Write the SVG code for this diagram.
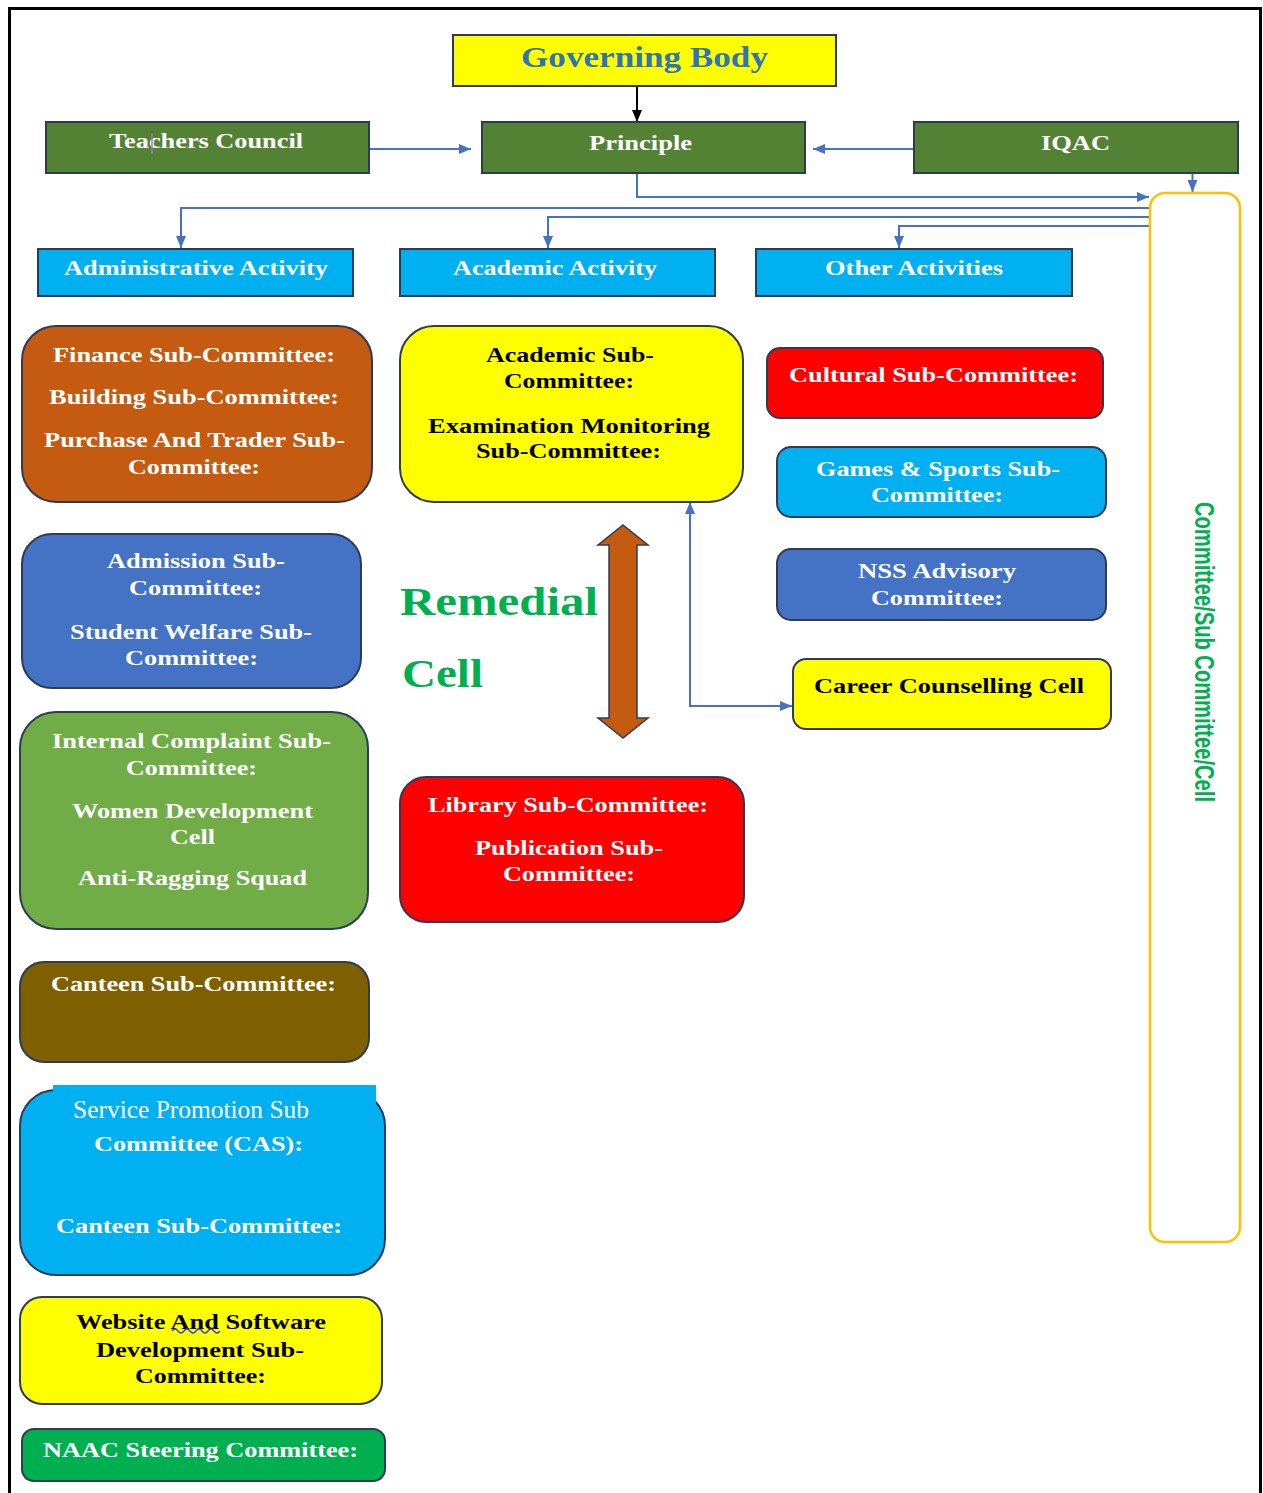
<svg xmlns="http://www.w3.org/2000/svg" width="1263" height="1493" viewBox="0 0 1263 1493">
<style>
.t{font-family:"Liberation Serif","Times New Roman",serif;font-weight:bold;font-size:22px;text-anchor:middle;fill:#fff}
.k{fill:#000}
.bx{stroke:#2F3B55;stroke-width:2}
.ln{fill:none;stroke:#4472C4;stroke-width:2}
</style>
<defs>
<marker id="ab" markerUnits="userSpaceOnUse" markerWidth="12" markerHeight="10" refX="12" refY="5" orient="auto"><path d="M0,0 L12,5 L0,10 z" fill="#4472C4"/></marker>
<marker id="abs" markerUnits="userSpaceOnUse" markerWidth="12" markerHeight="10" refX="0" refY="5" orient="auto"><path d="M12,0 L0,5 L12,10 z" fill="#4472C4"/></marker>
<marker id="ak" markerUnits="userSpaceOnUse" markerWidth="12" markerHeight="10" refX="12" refY="5" orient="auto"><path d="M0,0 L12,5 L0,10 z" fill="#000"/></marker>
</defs>
<rect width="1263" height="1493" fill="#fff"/>
<path d="M9.5,1493 V8.5 H1260.5 V1493" fill="none" stroke="#000" stroke-width="3"/>

<g id="connectors">
<path d="M637,86 V122" fill="none" stroke="#000" stroke-width="2" marker-end="url(#ak)"/>
<path class="ln" d="M369,149 H471" marker-end="url(#ab)"/>
<path class="ln" d="M914,149 H813" marker-end="url(#ab)"/>
<path class="ln" d="M637,173 V197 H1149" marker-end="url(#ab)"/>
<path class="ln" d="M1192.5,173 V192" marker-end="url(#ab)"/>
<path class="ln" d="M1150,208 H181 V248" marker-end="url(#ab)"/>
<path class="ln" d="M1150,217 H548 V248" marker-end="url(#ab)"/>
<path class="ln" d="M1150,226 H899 V248" marker-end="url(#ab)"/>
<path class="ln" d="M690,502 V706 H792" stroke-width="1.5" marker-start="url(#abs)" marker-end="url(#ab)"/>
</g>

<g id="governing-body">
<rect x="453" y="35" width="383" height="51" fill="#FFFF00" class="bx"/>
<text class="t" x="644.5" y="67" style="font-size:30px;fill:#2E75B6" textLength="247" lengthAdjust="spacingAndGlyphs">Governing Body</text>
</g>
<g id="teachers-council">
<rect x="46" y="122" width="323" height="51" fill="#548235" class="bx"/>
<text class="t" x="206" y="148" textLength="194" lengthAdjust="spacingAndGlyphs">Teachers Council</text>
<line x1="152" y1="133" x2="152" y2="154" stroke="#A070D0" stroke-width="1.5"/>
</g>
<g id="principle">
<rect x="482" y="122" width="323" height="51" fill="#548235" class="bx"/>
<text class="t" x="640.5" y="150" textLength="103" lengthAdjust="spacingAndGlyphs">Principle</text>
</g>
<g id="iqac">
<rect x="914" y="122" width="324" height="51" fill="#548235" class="bx"/>
<text class="t" x="1075.5" y="150" textLength="69" lengthAdjust="spacingAndGlyphs">IQAC</text>
</g>
<g id="committee-cell">
<rect x="1150" y="193" width="90" height="1049" rx="15" fill="none" stroke="#FFC000" stroke-width="2.5"/>
<text transform="translate(1195,652) rotate(90)" x="0" y="0" style="font-family:'Liberation Sans',Arial,sans-serif;font-weight:bold;font-size:28px;fill:#00B050;text-anchor:middle" textLength="300" lengthAdjust="spacingAndGlyphs">Committee/Sub Committee/Cell</text>
</g>

<g id="administrative-activity">
<rect x="38" y="249" width="315" height="47" fill="#00B0F0" class="bx"/>
<text class="t" x="196" y="275" textLength="264" lengthAdjust="spacingAndGlyphs">Administrative Activity</text>
</g>
<g id="academic-activity">
<rect x="400" y="249" width="315" height="47" fill="#00B0F0" class="bx"/>
<text class="t" x="555" y="275" textLength="204" lengthAdjust="spacingAndGlyphs">Academic Activity</text>
</g>
<g id="other-activities">
<rect x="756" y="249" width="316" height="47" fill="#00B0F0" class="bx"/>
<text class="t" x="914" y="275" textLength="178" lengthAdjust="spacingAndGlyphs">Other Activities</text>
</g>

<g id="finance">
<rect x="22" y="326" width="350" height="176" rx="34" fill="#C55A11" class="bx"/>
<text class="t" x="194" y="362" textLength="282" lengthAdjust="spacingAndGlyphs">Finance Sub-Committee:</text>
<text class="t" x="194" y="404" textLength="290" lengthAdjust="spacingAndGlyphs">Building Sub-Committee:</text>
<text class="t" x="194.5" y="447" textLength="301" lengthAdjust="spacingAndGlyphs">Purchase And Trader Sub-</text>
<text class="t" x="194" y="474" textLength="132" lengthAdjust="spacingAndGlyphs">Committee:</text>
</g>
<g id="admission">
<rect x="22" y="534" width="339" height="154" rx="30" fill="#4472C4" class="bx"/>
<text class="t" x="196" y="568" textLength="178" lengthAdjust="spacingAndGlyphs">Admission Sub-</text>
<text class="t" x="195.5" y="595" textLength="133" lengthAdjust="spacingAndGlyphs">Committee:</text>
<text class="t" x="191" y="639" textLength="242" lengthAdjust="spacingAndGlyphs">Student Welfare Sub-</text>
<text class="t" x="191.5" y="665" textLength="133" lengthAdjust="spacingAndGlyphs">Committee:</text>
</g>
<g id="internal-complaint">
<rect x="20" y="712" width="348" height="217" rx="36" fill="#70AD47" class="bx"/>
<text class="t" x="191.5" y="748" textLength="279" lengthAdjust="spacingAndGlyphs">Internal Complaint Sub-</text>
<text class="t" x="191.5" y="775" textLength="131" lengthAdjust="spacingAndGlyphs">Committee:</text>
<text class="t" x="192.5" y="818" textLength="241" lengthAdjust="spacingAndGlyphs">Women Development</text>
<text class="t" x="192.5" y="844" textLength="45" lengthAdjust="spacingAndGlyphs">Cell</text>
<text class="t" x="192.5" y="885" textLength="229" lengthAdjust="spacingAndGlyphs">Anti-Ragging Squad</text>
</g>
<g id="canteen">
<rect x="20" y="962" width="349" height="100" rx="24" fill="#7F6000" class="bx"/>
<text class="t" x="193.5" y="991" textLength="285" lengthAdjust="spacingAndGlyphs">Canteen Sub-Committee:</text>
</g>
<g id="service-promotion">
<rect x="20" y="1090" width="365" height="185" rx="36" fill="#00B0F0" class="bx"/>
<rect x="53" y="1085" width="323" height="22" fill="#00B0F0"/>
<text class="t" x="191" y="1118" style="font-size:25px;font-weight:normal" textLength="236" lengthAdjust="spacingAndGlyphs">Service Promotion Sub</text>
<text class="t" x="198.5" y="1151" textLength="209" lengthAdjust="spacingAndGlyphs">Committee (CAS):</text>
<text class="t" x="199" y="1233" textLength="286" lengthAdjust="spacingAndGlyphs">Canteen Sub-Committee:</text>
</g>
<g id="website">
<rect x="20" y="1297" width="362" height="107" rx="22" fill="#FFFF00" class="bx"/>
<text class="t k" x="201" y="1329" textLength="250" lengthAdjust="spacingAndGlyphs">Website And Software</text>
<path d="M172,1331 q3,-4 6,0 t6,0 t6,0 t6,0 t6,0 t6,0 t6,0 t6,0" fill="none" stroke="#3344CC" stroke-width="1.3"/>
<text class="t k" x="200" y="1357" textLength="208" lengthAdjust="spacingAndGlyphs">Development Sub-</text>
<text class="t k" x="200.5" y="1383" textLength="131" lengthAdjust="spacingAndGlyphs">Committee:</text>
</g>
<g id="naac">
<rect x="22" y="1429" width="363" height="52" rx="12" fill="#00B050" class="bx"/>
<text class="t" x="200.5" y="1457" textLength="315" lengthAdjust="spacingAndGlyphs">NAAC Steering Committee:</text>
</g>

<g id="academic-sub">
<rect x="400" y="326" width="343" height="176" rx="34" fill="#FFFF00" class="bx"/>
<text class="t k" x="570" y="362" textLength="168" lengthAdjust="spacingAndGlyphs">Academic Sub-</text>
<text class="t k" x="569" y="388" textLength="130" lengthAdjust="spacingAndGlyphs">Committee:</text>
<text class="t k" x="569" y="433" textLength="282" lengthAdjust="spacingAndGlyphs">Examination Monitoring</text>
<text class="t k" x="568.5" y="458" textLength="185" lengthAdjust="spacingAndGlyphs">Sub-Committee:</text>
</g>
<g id="remedial-cell">
<path d="M623,525 L648,545 L637,545 L637,718 L648,718 L623,738 L598,718 L609,718 L609,545 L598,545 Z" fill="#C55A11" stroke="#2F3B55" stroke-width="1.5"/>
<text class="t" x="400" y="615" style="font-size:40px;text-anchor:start;fill:#00B050" textLength="198" lengthAdjust="spacingAndGlyphs">Remedial</text>
<text class="t" x="402" y="687" style="font-size:40px;text-anchor:start;fill:#00B050" textLength="81" lengthAdjust="spacingAndGlyphs">Cell</text>
</g>
<g id="library">
<rect x="400" y="777" width="344" height="145" rx="26" fill="#FF0000" class="bx"/>
<text class="t" x="568" y="812" textLength="280" lengthAdjust="spacingAndGlyphs">Library Sub-Committee:</text>
<text class="t" x="569" y="855" textLength="188" lengthAdjust="spacingAndGlyphs">Publication Sub-</text>
<text class="t" x="569" y="881" textLength="132" lengthAdjust="spacingAndGlyphs">Committee:</text>
</g>

<g id="cultural">
<rect x="767" y="348" width="336" height="70" rx="13" fill="#FF0000" class="bx"/>
<text class="t" x="933.5" y="382" textLength="289" lengthAdjust="spacingAndGlyphs">Cultural Sub-Committee:</text>
</g>
<g id="games-sports">
<rect x="777" y="447" width="329" height="70" rx="14" fill="#00B0F0" class="bx"/>
<text class="t" x="938" y="476" textLength="244" lengthAdjust="spacingAndGlyphs">Games &amp; Sports Sub-</text>
<text class="t" x="937" y="502" textLength="132" lengthAdjust="spacingAndGlyphs">Committee:</text>
</g>
<g id="nss">
<rect x="777" y="549" width="329" height="71" rx="14" fill="#4472C4" class="bx"/>
<text class="t" x="937" y="578" textLength="158" lengthAdjust="spacingAndGlyphs">NSS Advisory</text>
<text class="t" x="937" y="605" textLength="132" lengthAdjust="spacingAndGlyphs">Committee:</text>
</g>
<g id="career-counselling">
<rect x="793" y="659" width="318" height="70" rx="13" fill="#FFFF00" class="bx"/>
<text class="t k" x="949" y="693" textLength="270" lengthAdjust="spacingAndGlyphs">Career Counselling Cell</text>
</g>
</svg>
